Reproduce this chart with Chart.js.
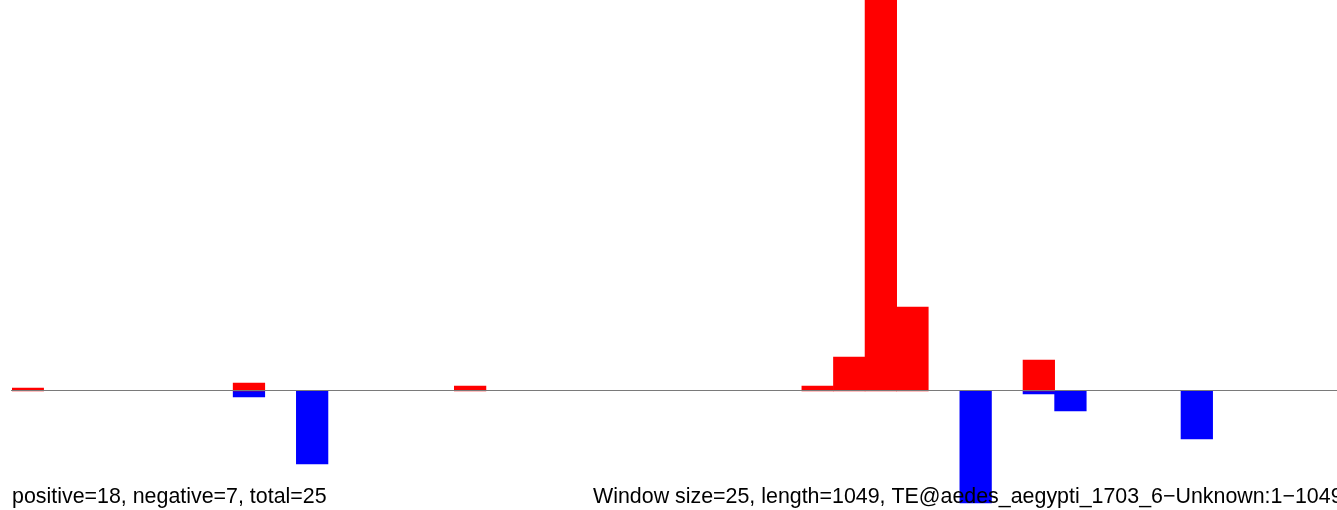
<!DOCTYPE html>
<html>
<head>
<meta charset="utf-8">
<title>TE window coverage</title>
<script src="https://cdn.jsdelivr.net/npm/chart.js@4.4.1/dist/chart.umd.min.js"></script>
<style>
    html, body { margin: 0; padding: 0; background: #fff; overflow: hidden; }
    #wrap { width: 1339px; height: 510px; position: relative; }
</style>
</head>
<body>
<div id="wrap"><canvas id="covChart"></canvas></div>
<script>
// Window size=25 over a 1049 bp element -> 42 windows
var windowStarts = [];
for (var w = 0; w < 42; w++) windowStarts.push(1 + w * 25);

// Per-window signal, forward strand (up) and reverse strand (down)
var forwardValues = [3, 0, 0, 0, 0, 0, 0, 8, 0, 0, 0, 0, 0, 0, 5, 0, 0, 0, 0, 0, 0,
    0, 0, 0, 0, 5, 34, 470, 84, 0, 0, 0, 31, 0, 0, 0, 0, 0, 0, 0, 0, 0];
var reverseValues = [0, 0, 0, 0, 0, 0, 0, -6, 0, -73, 0, 0, 0, 0, 0, 0, 0, 0, 0, 0, 0,
    0, 0, 0, 0, 0, 0, 0, 0, 0, -112, 0, -3, -20, 0, 0, 0, -48, 0, 0, 0, 0];

var countsLabel = 'positive=18, negative=7, total=25';
var titleLabel = 'Window size=25, length=1049, TE@aedes_aegypti_1703_6\u2212Unknown:1\u22121049';

// empty windows get no bar at all
function dropEmpty(values) {
    return values.map(function (v) { return v === 0 ? null : v; });
}

// ── Zero line and captions drawn straight onto the canvas ─────────
var overlayPlugin = {
    id: 'overlay',
    afterDatasetsDraw: function (chart) {
        var ctx = chart.ctx;
        var y0 = Math.round(chart.scales.y.getPixelForValue(0)) - 0.5;
        ctx.save();
        ctx.strokeStyle = '#7a7a7a';
        ctx.lineWidth = 1;
        ctx.beginPath();
        ctx.moveTo(11, y0);
        ctx.lineTo(chart.width, y0);
        ctx.stroke();
        ctx.restore();
    },
    afterDraw: function (chart) {
        var ctx = chart.ctx;
        ctx.save();
        ctx.fillStyle = '#000';
        ctx.font = '21.4px "Liberation Sans", Arial, sans-serif';
        ctx.textBaseline = 'alphabetic';
        ctx.textAlign = 'left';
        ctx.fillText(countsLabel, 12, 503);
        ctx.fillText(titleLabel, 593, 503);
        ctx.restore();
    }
};

new Chart(document.getElementById('covChart').getContext('2d'), {
    type: 'bar',
    data: {
        labels: windowStarts,
        datasets: [{
            label: 'forward',
            data: dropEmpty(forwardValues),
            backgroundColor: '#ff0000',
            borderWidth: 0
        }, {
            label: 'reverse',
            data: dropEmpty(reverseValues),
            backgroundColor: '#0000ff',
            borderWidth: 0
        }]
    },
    options: {
        responsive: true,
        maintainAspectRatio: false,
        animation: false,
        layout: { padding: { left: 12, right: 0, top: 0, bottom: 0 } },
        datasets: { bar: { barPercentage: 1.0, categoryPercentage: 1.0 } },
        scales: {
            x: { display: false, stacked: true },
            y: { display: false, stacked: true, min: -119, max: 391, grace: 0 }
        },
        plugins: {
            legend: { display: false },
            tooltip: { enabled: false }
        }
    },
    plugins: [overlayPlugin]
});
</script>
</body>
</html>
